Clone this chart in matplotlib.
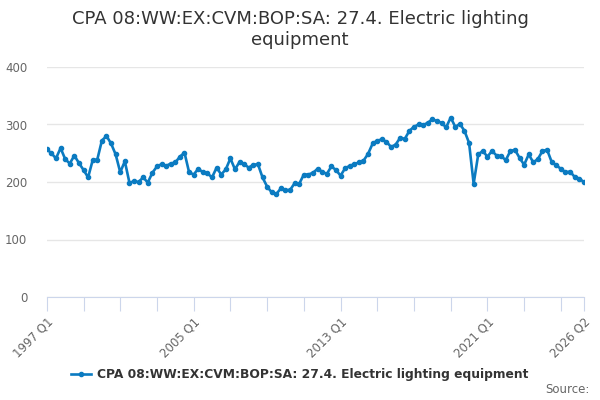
import matplotlib
matplotlib.use("Agg")
import matplotlib.pyplot as plt
import numpy as np

# quarterly values 1997 Q1 .. 2026 Q2
values = [
    257, 250, 241, 259,   # 1997
    240, 232, 246, 233,   # 1998
    221, 208, 238, 239,   # 1999
    272, 280, 267, 248,   # 2000
    217, 236, 199, 201,   # 2001
    200, 208, 199, 216,   # 2002
    227, 231, 228, 232,   # 2003
    234, 244, 251, 217,   # 2004
    213, 223, 217, 215,   # 2005
    208, 225, 213, 222,   # 2006
    241, 222, 235, 231,   # 2007
    225, 230, 231, 208,   # 2008
    192, 182, 179, 189,   # 2009
    186, 186, 198, 197,   # 2010
    213, 213, 216, 223,   # 2011
    218, 214, 227, 221,   # 2012
    211, 224, 228, 231,   # 2013
    234, 237, 249, 267,   # 2014
    272, 274, 270, 261,   # 2015
    265, 277, 275, 289,   # 2016
    296, 300, 299, 303,   # 2017
    309, 306, 303, 295,   # 2018
    312, 296, 301, 289,   # 2019
    268, 197, 248, 254,   # 2020
    244, 254, 246, 245,   # 2021
    238, 254, 256, 242,   # 2022
    230, 248, 234, 240,   # 2023
    254, 256, 235, 229,   # 2024
    223, 217, 218, 209,   # 2025
    206, 200,             # 2026
]
quarters = [f"{1997 + i // 4} Q{i % 4 + 1}" for i in range(len(values))]
labelled = ["1997 Q1", "2005 Q1", "2013 Q1", "2021 Q1", "2026 Q2"]
series_name = "CPA 08:WW:EX:CVM:BOP:SA: 27.4. Electric lighting equipment"

x = np.arange(len(values))

fig = plt.figure(figsize=(6, 4), dpi=100)
ax = fig.add_axes([0.078, 0.2575, 0.895, 0.575])

line_color = "#0b7bc1"
ax.plot(x, values, color=line_color, lw=1.9, marker="o", ms=3, label=series_name)

ax.set_xlim(0, len(values) - 1)
ax.set_ylim(0, 400)
ax.set_yticks([0, 100, 200, 300, 400])
ax.yaxis.grid(True, color="#e6e6e6", lw=1)
ax.set_axisbelow(True)

tick_pos = list(range(0, len(values), 8)) + [len(values) - 1]
ax.set_xticks(tick_pos)
ax.set_xticklabels([quarters[i] if quarters[i] in labelled else "" for i in tick_pos],
                   rotation=45, ha="right", rotation_mode="anchor")
ax.tick_params(axis="x", length=10, color="#ccd6eb", labelsize=8.5, labelcolor="#666666", pad=3)
ax.tick_params(axis="y", length=0, labelsize=8.5, labelcolor="#666666", pad=14)

for s in ["top", "right", "left"]:
    ax.spines[s].set_visible(False)
ax.spines["bottom"].set_color("#ccd6eb")

fig.suptitle("CPA 08:WW:EX:CVM:BOP:SA: 27.4. Electric lighting\nequipment",
             x=0.5, y=0.975, fontsize=13, color="#333333", linespacing=1.2)

leg = fig.legend(loc="lower center", bbox_to_anchor=(0.5, 0.02), frameon=False,
                 prop={"size": 8.8, "weight": "bold"}, handlelength=1.6, handletextpad=0.5)
for t in leg.get_texts():
    t.set_color("#333333")

fig.text(0.982, 0.01, "Source:", ha="right", va="bottom", fontsize=8.5, color="#666666")

fig.savefig("out.png", dpi=100)
